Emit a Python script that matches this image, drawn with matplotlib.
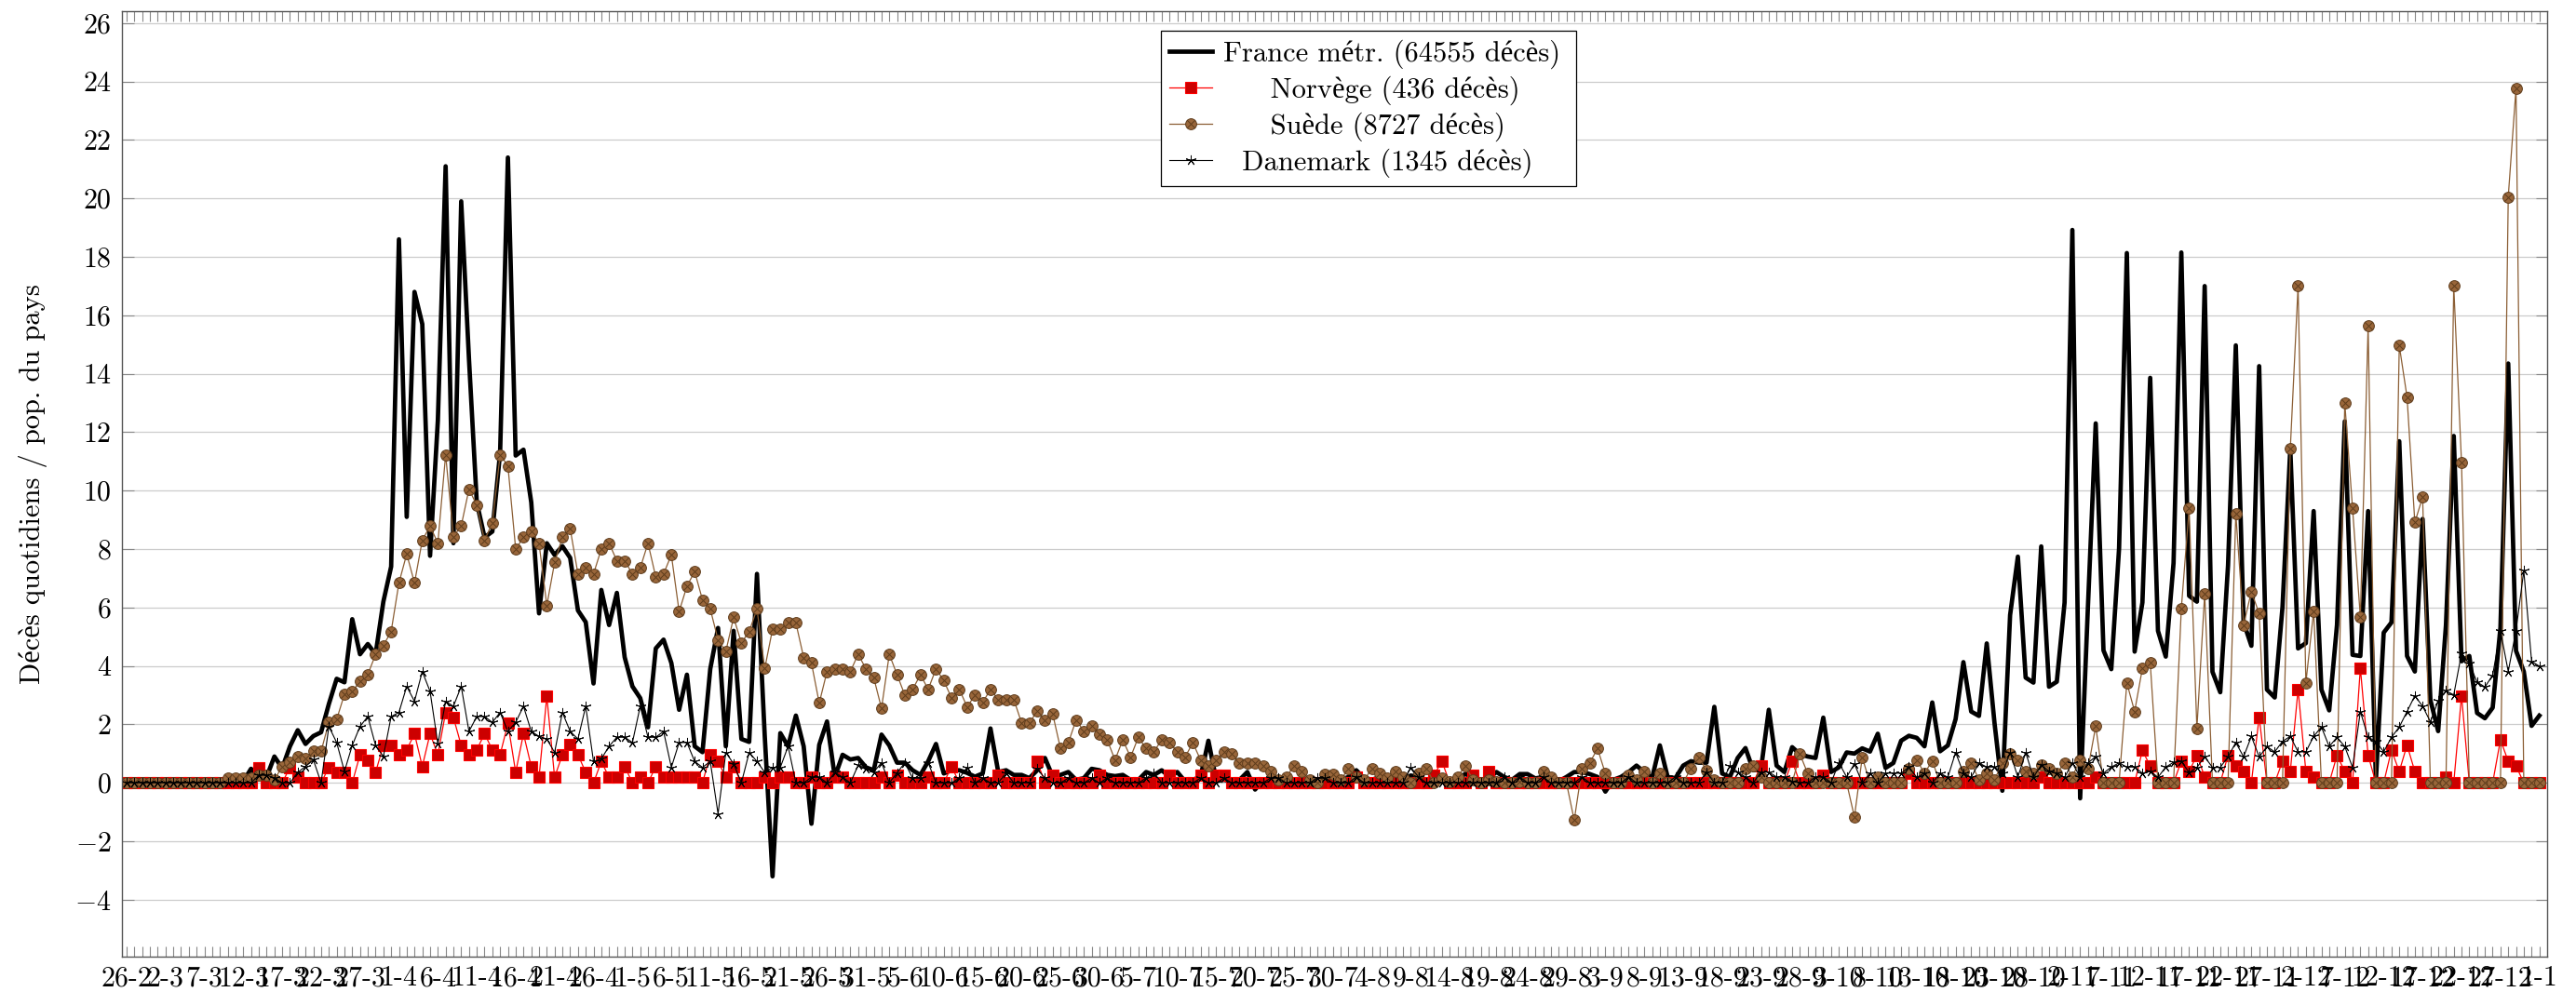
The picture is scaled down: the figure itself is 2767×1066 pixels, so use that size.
import matplotlib
matplotlib.use("Agg")
import matplotlib.pyplot as plt
from matplotlib.path import Path
import numpy as np
import pandas as pd

plt.rcParams["font.family"] = ["cmr10", "Liberation Serif"]
plt.rcParams["mathtext.fontset"] = "cm"
plt.rcParams["axes.formatter.use_mathtext"] = True

# one value per day, 26-2-2020 .. 1-1-2021
days = pd.date_range("2020-02-26", "2021-01-01")
day_labels = [f"{d.day}-{d.month}" for d in days]

france = [
    0, 0, 0, 0, 0, 0, 0, 0, 0, 0,
    0, 0, 0, 0.05, 0.1, 0.05, 0.48, 0.25, 0.2, 0.9,
    0.5, 1.25, 1.8, 1.33, 1.6, 1.73, 2.7, 3.56, 3.44, 5.6,
    4.4, 4.75, 4.4, 6.2, 7.4, 18.6, 9.1, 16.8, 15.7, 7.77,
    12.4, 21.1, 8.2, 19.9, 14.5, 9.6, 8.4, 8.6, 11.3, 21.4,
    11.2, 11.4, 9.6, 5.8, 8.2, 7.8, 8.1, 7.7, 5.9, 5.5,
    3.4, 6.6, 5.4, 6.5, 4.3, 3.3, 2.9, 1.9, 4.6, 4.9,
    4.1, 2.5, 3.7, 1.25, 1.05, 3.9, 5.3, 1.25, 5.2, 1.5,
    1.4, 7.15, 1.6, -3.2, 1.7, 1.25, 2.3, 1.25, -1.4, 1.3,
    2.1, 0.2, 0.96, 0.8, 0.85, 0.53, 0.43, 1.65, 1.28, 0.69,
    0.69, 0.43, 0.27, 0.74, 1.33, 0.32, 0.43, 0.43, 0.34, 0.21,
    0.32, 1.86, 0.37, 0.43, 0.27, 0.27, 0.16, 0.43, 0.85, 0.21,
    0.27, 0.37, 0.1, 0.16, 0.48, 0.43, 0.27, 0.23, 0.27, 0.1,
    0.1, 0.37, 0.27, 0.43, 0.21, 0.37, 0.05, 0.1, 0.21, 1.44,
    0.1, 0.1, 0.05, 0.1, 0.37, -0.23, 0.1, 0.1, 0.05, 0.1,
    0.1, 0.1, 0.1, 0.1, 0.1, 0.1, 0.1, 0.2, 0.43, 0.15,
    0.1, 0.2, 0.1, 0.15, 0.1, 0.25, 0.2, 0.1, 0.1, 0.15,
    0.1, 0.15, 0.3, 0.2, 0.1, 0.15, 0.37, 0.2, 0.1, 0.3,
    0.3, 0.15, 0.2, 0.1, 0.05, 0.2, 0.37, 0.37, 0.3, 0.2,
    -0.3, 0.1, 0.2, 0.37, 0.59, 0.37, 0.16, 1.28, 0.2, 0.16,
    0.59, 0.74, 0.69, 0.69, 2.6, 0.32, 0.2, 0.85, 1.19, 0.43,
    0.48, 2.5, 0.59, 0.37, 1.22, 0.98, 0.9, 0.85, 2.23, 0.37,
    0.53, 1.04, 1.0, 1.18, 1.07, 1.68, 0.51, 0.68, 1.44, 1.61,
    1.54, 1.25, 2.75, 1.08, 1.28, 2.18, 4.13, 2.44, 2.29, 4.77,
    2.04, -0.27, 5.74, 7.74, 3.6, 3.43, 8.09, 3.29, 3.46, 6.17,
    18.92, -0.53, 6.03, 12.3, 4.53, 3.89, 8.02, 18.13, 4.49, 6.17,
    13.86, 5.2, 4.32, 7.52, 18.15, 6.4, 6.2, 17.0, 3.8, 3.1,
    7.44, 14.97, 5.49, 4.69, 14.26, 3.19, 2.92, 6.02, 11.43, 4.6,
    4.78, 9.3, 3.19, 2.48, 5.4, 12.37, 4.38, 4.34, 9.3, 0.1,
    5.14, 5.49, 11.69, 4.34, 3.81, 9.03, 2.83, 1.77, 5.4, 11.87,
    4.16, 4.34, 2.39, 2.21, 2.57, 5.31, 14.35, 4.52, 3.81, 1.95, 2.3,
]

norvege = [
    0, 0, 0, 0, 0, 0, 0, 0, 0, 0,
    0, 0, 0, 0, 0, 0, 0, 0.53, 0, 0,
    0, 0.53, 0.19, 0, 0, 0, 0.53, 0.36, 0.36, 0,
    0.96, 0.77, 0.36, 1.28, 1.28, 0.96, 1.13, 1.68, 0.56, 1.68,
    0.96, 2.41, 2.24, 1.28, 0.96, 1.13, 1.68, 1.13, 0.96, 2.03,
    0.36, 1.68, 0.56, 0.19, 2.96, 0.19, 0.96, 1.32, 0.96, 0.36,
    0, 0.73, 0.19, 0.19, 0.56, 0, 0.19, 0, 0.56, 0.19,
    0.19, 0.19, 0.19, 0.19, 0, 0.96, 0.73, 0.19, 0.56, 0,
    0, 0, 0.19, 0, 0.19, 0.19, 0, 0, 0.19, 0,
    0, 0.19, 0.19, 0, 0, 0, 0, 0.2, 0, 0.27,
    0, 0, 0, 0.2, 0, 0, 0.56, 0, 0, 0,
    0, 0, 0.27, 0, 0, 0, 0, 0.74, 0, 0.27,
    0, 0, 0, 0, 0, 0.27, 0, 0, 0, 0,
    0, 0, 0, 0, 0.27, 0, 0, 0, 0.27, 0,
    0.27, 0.27, 0, 0, 0, 0, 0, 0, 0, 0,
    0, 0, 0, 0, 0, 0, 0, 0, 0.2, 0,
    0, 0, 0, 0, 0, 0, 0, 0, 0.27, 0.74,
    0, 0, 0, 0.27, 0, 0.4, 0, 0, 0, 0,
    0, 0, 0, 0, 0, 0, 0, 0, 0, 0,
    0, 0, 0, 0, 0, 0, 0, 0, 0, 0,
    0, 0, 0, 0, 0, 0, 0, 0, 0, 0,
    0.59, 0, 0, 0, 0.74, 0, 0, 0, 0.27, 0,
    0, 0, 0, 0, 0, 0, 0, 0, 0, 0.33,
    0, 0, 0, 0, 0, 0, 0, 0, 0, 0,
    0, 0, 0, 0, 0, 0, 0.2, 0, 0, 0,
    0, 0, 0, 0.21, 0, 0, 0, 0, 0, 1.11,
    0.57, 0, 0, 0, 0.74, 0.39, 0.94, 0.21, 0, 0,
    0.94, 0.58, 0.39, 0, 2.25, 0, 0, 0.74, 0.39, 3.19,
    0.39, 0.21, 0, 0, 0.94, 0.39, 0, 3.93, 0.94, 0,
    0, 1.12, 0.39, 1.29, 0.39, 0, 0, 0, 0.21, 0,
    2.98, 0, 0, 0, 0, 1.47, 0.74, 0.58, 0, 0, 0,
]

suede = [
    0, 0, 0, 0, 0, 0, 0, 0, 0, 0,
    0, 0, 0, 0.17, 0.17, 0.17, 0.17, 0.26, 0.26, 0.1,
    0.56, 0.7, 0.9, 0.82, 1.08, 1.08, 2.07, 2.17, 3.03, 3.13,
    3.47, 3.71, 4.39, 4.7, 5.18, 6.84, 7.83, 6.84, 8.3, 8.79,
    8.2, 11.23, 8.43, 8.79, 10.05, 9.5, 8.3, 8.9, 11.23, 10.85,
    8.0, 8.4, 8.6, 8.2, 6.07, 7.54, 8.4, 8.7, 7.15, 7.35,
    7.15, 8.0, 8.2, 7.6, 7.6, 7.15, 7.35, 8.2, 7.04, 7.15,
    7.8, 5.86, 6.73, 7.23, 6.26, 5.95, 4.89, 4.5, 5.66, 4.79,
    5.18, 5.95, 3.91, 5.26, 5.26, 5.47, 5.47, 4.29, 4.1, 2.73,
    3.81, 3.9, 3.9, 3.81, 4.4, 3.9, 3.6, 2.55, 4.4, 3.7,
    3.0, 3.2, 3.7, 3.2, 3.9, 3.5, 2.9, 3.2, 2.6, 3.0,
    2.75, 3.2, 2.85, 2.85, 2.85, 2.05, 2.05, 2.45, 2.15, 2.35,
    1.17, 1.37, 2.15, 1.77, 1.96, 1.66, 1.47, 0.78, 1.47, 0.88,
    1.56, 1.17, 1.07, 1.47, 1.37, 1.07, 0.88, 1.37, 0.78, 0.59,
    0.78, 1.07, 0.98, 0.68, 0.68, 0.68, 0.59, 0.39, 0.1, 0.19,
    0.59, 0.39, 0.1, 0, 0.3, 0.3, 0.1, 0.49, 0.2, 0.1,
    0.48, 0.32, 0.16, 0.4, 0.2, 0, 0.32, 0.5, 0, 0.16,
    0.05, 0.2, 0.59, 0.1, 0, 0.1, 0.05, 0, 0, 0.05,
    0, 0, 0.4, 0.2, 0, 0, -1.28, 0.5, 0.69, 1.17,
    0.32, 0, 0, 0.26, 0.1, 0.4, 0, 0.32, 0, 0,
    0, 0.5, 0.87, 0.43, 0.1, 0, 0, 0, 0.5, 0.59,
    0.2, 0, 0, 0, 0, 0.98, 0.32, 0, 0, 0,
    0, 0, -1.17, 0.87, 0, 0.19, 0, 0, 0, 0.5,
    0.78, 0.33, 0.75, 0, 0, 0, 0.4, 0.68, 0.11, 0.33,
    0.11, 0.68, 1.01, 0.78, 0.4, 0.33, 0.61, 0.5, 0.33, 0.68,
    0.21, 0.78, 0.47, 1.94, 0, 0, 0, 3.42, 2.44, 3.92,
    4.13, 0, 0, 0, 5.97, 9.39, 1.86, 6.47, 0, 0,
    0, 9.21, 5.4, 6.55, 5.79, 0, 0, 0, 11.43, 17.0,
    3.42, 5.88, 0, 0, 0, 13.0, 9.39, 5.67, 15.64, 0,
    0, 0, 14.97, 13.2, 8.91, 9.78, 0, 0, 0, 17.0,
    10.95, 0, 0, 0, 0, 0, 20.05, 23.77, 0, 0, 0,
]

danemark = [
    0, 0, 0, 0, 0, 0, 0, 0, 0, 0,
    0, 0, 0, 0, 0, 0, 0, 0.26, 0.26, 0.17,
    0, 0, 0.36, 0.56, 0.79, 0, 1.93, 1.38, 0.39, 1.28,
    1.93, 2.27, 1.28, 0.9, 2.27, 2.41, 3.3, 2.79, 3.81, 3.13,
    1.33, 2.79, 2.62, 3.3, 1.76, 2.27, 2.27, 2.07, 2.41, 1.76,
    2.07, 2.62, 1.76, 1.59, 1.5, 1.04, 2.41, 1.76, 1.5, 2.62,
    0.73, 0.82, 1.25, 1.56, 1.56, 1.38, 2.62, 1.56, 1.56, 1.76,
    0.53, 1.38, 1.38, 0.73, 0.53, 0.73, -1.06, 1.04, 0.65, 0,
    1.04, 0.73, 0.36, 0.53, 0.53, 1.25, 0, 0, 0.19, 0.19,
    0, 0.36, 0.19, 0, 0.6, 0.5, 0.37, 0.69, 0, 0.34,
    0.69, 0.16, 0.16, 0.69, 0, 0, 0, 0.16, 0.53, 0,
    0.16, 0, 0, 0.34, 0, 0, 0, 0.48, 0.16, 0,
    0, 0.16, 0, 0, 0.16, 0, 0.16, 0, 0, 0,
    0, 0.16, 0.34, 0, 0, 0, 0, 0, 0.16, 0,
    0, 0.16, 0, 0, 0, 0, 0, 0.16, 0.16, 0,
    0, 0, 0, 0.16, 0.16, 0, 0, 0, 0.2, 0,
    0, 0, 0, 0, 0, 0.53, 0.2, 0, 0, 0,
    0, 0, 0, 0, 0, 0, 0, 0.2, 0, 0.2,
    0, 0, 0.2, 0, 0, 0, 0, 0.2, 0, 0,
    0, 0, 0, 0.2, 0, 0, 0, 0, 0, 0.2,
    0, 0, 0, 0.37, 0, 0, 0.59, 0.37, 0.2, 0,
    0.37, 0.37, 0.2, 0.2, 0.05, 0, 0, 0.2, 0.2, 0,
    0.69, 0.2, 0.65, 0, 0.33, 0, 0.33, 0.33, 0.33, 0.54,
    0.19, 0.33, 0, 0.33, 0.19, 1.04, 0.33, 0.19, 0.68, 0.54,
    0.54, 0.33, 1.04, 0.19, 1.04, 0.19, 0.61, 0.4, 0.33, 0.19,
    0.68, 0.19, 0.68, 0.9, 0.33, 0.54, 0.68, 0.54, 0.54, 0.33,
    0.4, 0.19, 0.54, 0.7, 0.74, 0.35, 0.53, 0.89, 0.53, 0.53,
    0.89, 1.38, 0.89, 1.59, 0.89, 1.24, 1.06, 1.42, 1.59, 1.06,
    1.06, 1.59, 1.91, 1.24, 1.56, 1.24, 0.53, 2.44, 1.56, 1.42,
    1.06, 1.56, 1.91, 2.44, 2.98, 2.62, 2.09, 2.8, 3.15, 3.01,
    4.43, 4.07, 3.45, 3.28, 3.68, 5.21, 3.81, 5.21, 7.26, 4.16, 3.99,
]

labels = ["France métr. (64555 décès)", "Norvège (436 décès)",
          "Suède (8727 décès)", "Danemark (1345 décès)"]

x = np.arange(len(days))

# circle with a cross inside (like pgfplots otimes*)
r = 0.7071
cross = Path([(-r, -r), (r, r), (-r, r), (r, -r)],
             [Path.MOVETO, Path.LINETO, Path.MOVETO, Path.LINETO])
otimes = Path.make_compound_path(Path.unit_circle(), cross)

fig = plt.figure(figsize=(27.67, 10.66), dpi=100)
ax = fig.add_axes([0.0473, 0.0356, 0.9415, 0.9535])

# pad legend labels with spaces so they sit centred like in pgfplots
rend = fig.canvas.get_renderer()
def text_w(s):
    t = fig.text(0, 0, s, fontsize=22)
    w = t.get_window_extent(rend).width
    t.remove()
    return w
sp = (text_w("a" + " " * 10 + "a") - text_w("aa")) / 10
wmax = max(text_w(s) for s in labels)
leg_labels = []
for s in labels:
    n = int(round((wmax - text_w(s)) / 2 / sp))
    leg_labels.append(" " * n + s + " " * n)

ax.plot(x, france, color="black", lw=3.4, label=leg_labels[0])
ax.plot(x, norvege, color="red", lw=0.9, marker="s", ms=8,
        mfc="#cc0000", mec="red", mew=0.8, label=leg_labels[1])
ax.plot(x, suede, color="#8b5e34", lw=0.9, marker=otimes, ms=8.5,
        mfc="#99663a", mec="#5e3c1c", mew=0.7, label=leg_labels[2])
ax.plot(x, danemark, color="black", lw=0.8, marker=(5, 2, 0), ms=8,
        mec="black", mew=0.7, label=leg_labels[3])

ax.set_xlim(-0.6, 311.0)
ax.set_ylim(-5.95, 26.42)
ax.set_yticks(range(-4, 27, 2))
ax.set_xticks(x[::5])
ax.set_xticklabels(day_labels[::5])
ax.set_xticks(x, minor=True)

ax.tick_params(axis="x", which="both", direction="in", top=True, bottom=True,
               length=8, width=0.8, color="#888888", labelsize=21.5, pad=7)
ax.tick_params(axis="y", direction="in", left=True, right=True,
               length=9, width=0.8, color="#888888", labelsize=21.5, pad=8)
ax.grid(axis="y", color="#cccccc", lw=0.9)
ax.set_axisbelow(True)
for s in ax.spines.values():
    s.set_color("#555555")
    s.set_linewidth(1.0)

ax.set_ylabel("Décès quotidiens / pop. du pays", fontsize=22)
ax.yaxis.set_label_coords(-0.0305, 0.5)

leg = ax.legend(loc="upper center", bbox_to_anchor=(0.514, 0.979), fontsize=22,
                fancybox=False, framealpha=1, edgecolor="black",
                handlelength=1.5, borderpad=0.3, labelspacing=0.25,
                handletextpad=0.4, borderaxespad=0)
leg.get_frame().set_linewidth(0.9)

fig.savefig("out.png", dpi=100)
